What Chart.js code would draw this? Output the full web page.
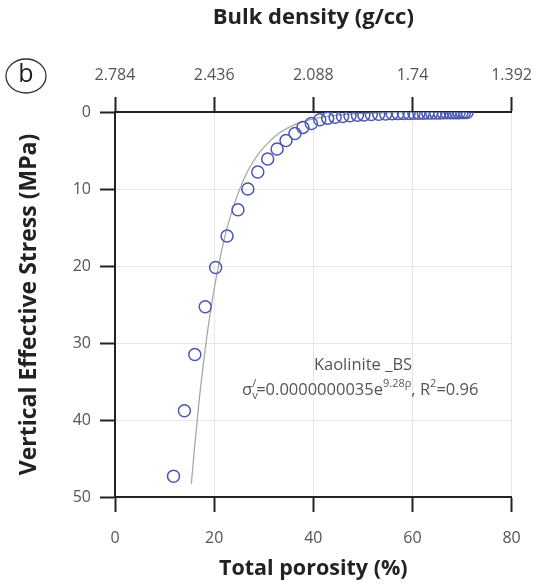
<!DOCTYPE html>
<html>
<head>
<meta charset="utf-8">
<script src="https://cdn.jsdelivr.net/npm/chart.js@4"></script>
<style>
  html, body { margin: 0; padding: 0; background: #fff; }
</style>
</head>
<body>
<canvas id="chart" width="544" height="584"></canvas>
<script>
// measured points (porosity %, effective stress MPa)
const porosity = [11.8, 14.0, 16.1, 18.2, 20.3, 22.6, 24.8, 26.8, 28.8, 30.8, 32.7, 34.5, 36.3, 37.9, 39.6,
  41.3, 42.9, 44.4, 45.9, 47.4, 48.9, 50.2, 51.7, 53.2, 54.6, 55.9, 57.1, 58.2, 59.3, 60.3, 61.3, 62.2,
  63.1, 63.9, 64.7, 65.5, 66.2, 66.9, 67.6, 68.2, 68.8, 69.4, 70.0, 70.5, 71.0];
const stress = [47.3, 38.8, 31.5, 25.3, 20.2, 16.1, 12.7, 10.0, 7.8, 6.1, 4.8, 3.7, 2.8, 2.0, 1.5,
  1.0, 0.8, 0.68, 0.58, 0.5, 0.43, 0.38, 0.33, 0.29, 0.26, 0.23, 0.21, 0.19, 0.18, 0.17, 0.16, 0.15,
  0.14, 0.13, 0.12, 0.12, 0.11, 0.11, 0.10, 0.10, 0.09, 0.09, 0.08, 0.08, 0.07];

// grey fit curve
const fitPorosity = [15.4, 16, 17, 18, 19, 20, 22, 24, 26, 28, 30, 33, 36, 40, 45, 50, 60, 71];
const fitStress = [48.3, 43.9, 37.3, 31.8, 27.0, 23.0, 16.6, 12.1, 8.7, 6.3, 4.6, 2.8, 1.7, 0.9, 0.4, 0.2, 0.04, 0.01];

const porosityTicks = [0, 20, 40, 60, 80];
const densityTicks = [2.784, 2.436, 2.088, 1.74, 1.392];
const stressTicks = [0, 10, 20, 30, 40, 50];

const FONT = "'Open Sans', 'DejaVu Sans', sans-serif";
const AXIS = "#222";
const GRID = "#e6e6e6";

const overlay = {
  id: "overlay",
  afterDraw(chart) {
    const ctx = chart.ctx;
    ctx.save();
    // (b) badge
    ctx.strokeStyle = "#333";
    ctx.lineWidth = 1.3;
    ctx.beginPath();
    ctx.ellipse(26, 76, 20, 17, 0, 0, Math.PI * 2);
    ctx.stroke();
    ctx.fillStyle = "#222";
    ctx.font = "25px " + FONT;
    ctx.textAlign = "center";
    ctx.textBaseline = "middle";
    ctx.fillText("b", 26, 75);

    // annotation
    ctx.fillStyle = "#555";
    ctx.textBaseline = "alphabetic";
    ctx.font = "16.5px " + FONT;
    ctx.fillText("Kaolinite _BS", 363, 370);

    const big = "16.5px " + FONT, small = "11px " + FONT;
    const parts = [
      ["σ", big, 0], ["v", small, 4], ["/", small, -8],
      ["=0.0000000035e", big, 0], ["9.28ρ", small, -8],
      [", R", big, 0], ["2", small, -8], ["=0.96", big, 0]
    ];
    let w = 0;
    parts.forEach(p => { ctx.font = p[1]; w += ctx.measureText(p[0]).width; });
    let x = 363 - w / 2;
    ctx.textAlign = "left";
    parts.forEach(p => {
      ctx.font = p[1];
      // subscript v and prime sit on top of each other
      if (p[0] === "/") x -= ctx.measureText("v").width;
      ctx.fillText(p[0], x, 395 + p[2]);
      x += ctx.measureText(p[0]).width;
    });
    ctx.restore();
  }
};

new Chart(document.getElementById("chart"), {
  type: "scatter",
  data: {
    datasets: [
      {
        label: "Kaolinite_BS",
        data: porosity.map((p, i) => ({ x: p, y: stress[i] })),
        pointRadius: 6,
        pointBorderWidth: 1.5,
        pointBorderColor: "#4a58ad",
        pointBackgroundColor: "rgba(0,0,0,0)",
        xAxisID: "x",
        yAxisID: "y"
      },
      {
        type: "line",
        label: "fit",
        data: fitPorosity.map((p, i) => ({ x: p, y: fitStress[i] })),
        borderColor: "#a8a8a8",
        borderWidth: 1.3,
        pointRadius: 0,
        cubicInterpolationMode: "monotone",
        xAxisID: "x",
        yAxisID: "y"
      }
    ]
  },
  options: {
    responsive: false,
    animation: false,
    layout: { padding: { left: 0, right: 28, top: 0, bottom: 0 } },
    plugins: { legend: { display: false }, tooltip: { enabled: false } },
    scales: {
      x: {
        type: "linear",
        position: "bottom",
        min: 0,
        max: 80,
        afterBuildTicks: axis => { axis.ticks = porosityTicks.map(v => ({ value: v })); },
        afterFit: axis => { axis.height = 87; },
        grid: { color: GRID, tickColor: AXIS, tickLength: 15, tickWidth: 2 },
        border: { color: AXIS, width: 2 },
        ticks: { color: "#555", font: { family: FONT, size: 16 }, padding: 17 },
        title: { display: true, text: "Total porosity (%)", color: "#222",
          font: { family: FONT, size: 21.5, weight: "bold" }, padding: { top: 0, bottom: 2 } }
      },
      x2: {
        type: "linear",
        position: "top",
        min: 1.392,
        max: 2.784,
        reverse: true,
        afterBuildTicks: axis => { axis.ticks = densityTicks.map(v => ({ value: v })); },
        afterFit: axis => { axis.height = 112; },
        grid: { drawOnChartArea: false, tickColor: AXIS, tickLength: 15, tickWidth: 2 },
        border: { color: AXIS, width: 2 },
        ticks: { color: "#555", font: { family: FONT, size: 16 }, padding: 12,
          callback: v => String(v) },
        title: { display: true, text: "Bulk density (g/cc)", color: "#222",
          font: { family: FONT, size: 22, weight: "bold" }, padding: { top: 5, bottom: 0 } }
      },
      y: {
        type: "linear",
        reverse: true,
        min: 0,
        max: 50,
        afterBuildTicks: axis => { axis.ticks = stressTicks.map(v => ({ value: v })); },
        afterFit: axis => { axis.width = 115; },
        grid: { color: GRID, tickColor: AXIS, tickLength: 15, tickWidth: 2 },
        border: { color: AXIS, width: 2 },
        ticks: { color: "#555", font: { family: FONT, size: 16 }, padding: 9 },
        title: { display: true, text: "Vertical Effective Stress (MPa)", color: "#222",
          font: { family: FONT, size: 23, weight: "bold" }, padding: { top: 16 } }
      }
    }
  },
  plugins: [overlay]
});
</script>
</body>
</html>
